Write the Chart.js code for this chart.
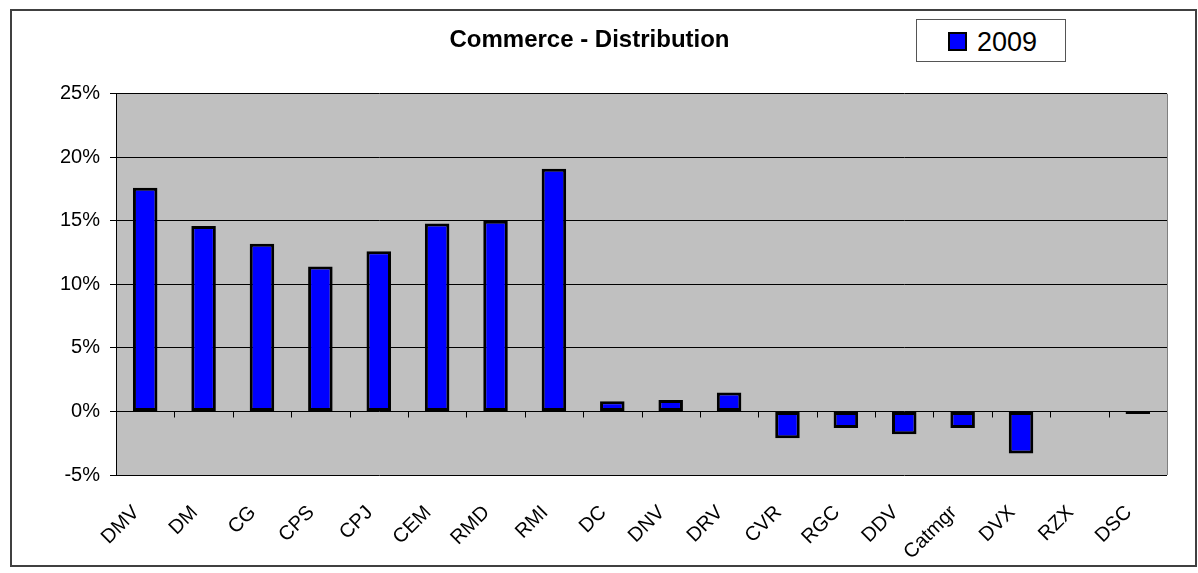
<!DOCTYPE html>
<html>
<head>
<meta charset="utf-8">
<title>Commerce - Distribution</title>
<script src="https://cdn.jsdelivr.net/npm/chart.js@4.4.1/dist/chart.umd.min.js"></script>
<style>
  body { margin: 0; background: #fff; font-family: 'Liberation Sans', Arial, sans-serif; }
  #frame {
    position: absolute; left: 10px; top: 9px;
    width: 1187px; height: 558px;
    border: 2px solid #404040; box-sizing: border-box;
  }
  #chart { display: block; }
  #legend {
    position: absolute; left: 916px; top: 19px;
    width: 150px; height: 43px;
    border: 1px solid #555; box-sizing: border-box; background: #fff;
  }
  #legend .swatch {
    position: absolute; left: 31px; top: 12px;
    width: 19px; height: 19px;
    border: 2px solid #000; box-sizing: border-box;
  }
  #legend .label {
    position: absolute; left: 60px; top: 9px;
    font-size: 27px; line-height: 27px; color: #000;
  }
</style>
</head>
<body>
<div id="frame">
  <canvas id="chart" width="1183" height="554"></canvas>
</div>
<div id="legend"></div>

<script>
// Chart data
const categories = ['DMV', 'DM', 'CG', 'CPS', 'CPJ', 'CEM', 'RMD', 'RMI', 'DC', 'DNV',
                    'DRV', 'CVR', 'RGC', 'DDV', 'Catmgr', 'DVX', 'RZX', 'DSC'];
const seriesLabel = '2009';
const values2009 = [17.6, 14.6, 13.2, 11.4, 12.6, 14.8, 15.0, 19.1, 0.8, 0.9,
                    1.5, -2.1, -1.3, -1.8, -1.3, -3.3, 0, -0.2];
const yTicks = [-5, 0, 5, 10, 15, 20, 25];

const barColor = '#0000ff';
const fontFamily = "'Liberation Sans', Arial, sans-serif";

// Grey plot background
const plotBackground = {
    id: 'plotBackground',
    beforeDraw(chart) {
        const { ctx, chartArea: a } = chart;
        ctx.save();
        ctx.fillStyle = '#c0c0c0';
        ctx.fillRect(a.left, a.top, a.right - a.left, a.bottom - a.top);
        ctx.restore();
    }
};

// Category tick marks along the 0% line and the right edge of the plot
const zeroAxisTicks = {
    id: 'zeroAxisTicks',
    afterDatasetsDraw(chart) {
        const { ctx, chartArea: a, scales: { x, y } } = chart;
        const y0 = Math.round(y.getPixelForValue(0)) + 0.5;
        ctx.save();
        ctx.strokeStyle = '#000';
        ctx.lineWidth = 1;
        ctx.beginPath();
        for (let i = 1; i < categories.length; i++) {
            const px = Math.round(x.getPixelForValue(i - 0.5)) + 0.5;
            ctx.moveTo(px, y0);
            ctx.lineTo(px, y0 + 6);
        }
        ctx.stroke();

        ctx.strokeStyle = '#808080';
        ctx.beginPath();
        ctx.moveTo(Math.round(a.right) + 0.5, a.top);
        ctx.lineTo(Math.round(a.right) + 0.5, a.bottom);
        ctx.stroke();
        ctx.restore();
    }
};

const chart = new Chart(document.getElementById('chart'), {
    type: 'bar',
    data: {
        labels: categories,
        datasets: [{
            label: seriesLabel,
            data: values2009,
            backgroundColor: barColor,
            borderColor: '#000',
            borderWidth: 3,
            borderSkipped: false,
            barPercentage: 0.42,
            categoryPercentage: 1.0
        }]
    },
    options: {
        responsive: false,
        animation: false,
        layout: { padding: { left: 0, right: 28, top: 0, bottom: 0 } },
        plugins: {
            legend: { display: false },
            tooltip: { enabled: false },
            title: {
                display: true,
                text: 'Commerce - Distribution',
                color: '#000',
                font: { family: fontFamily, size: 24, weight: 'bold' },
                padding: { top: 15, bottom: 39 }
            }
        },
        scales: {
            x: {
                grid: { display: false, drawTicks: false },
                border: { display: false },
                ticks: {
                    autoSkip: false,
                    maxRotation: 45,
                    minRotation: 45,
                    padding: 26,
                    labelOffset: -9,
                    color: '#000',
                    font: { family: fontFamily, size: 20 }
                },
                afterFit: scale => { scale.height = 90; }
            },
            y: {
                min: yTicks[0],
                max: yTicks[yTicks.length - 1],
                afterBuildTicks: scale => {
                    scale.ticks = yTicks.map(v => ({ value: v }));
                },
                grid: { color: '#000', lineWidth: 1, tickLength: 6 },
                border: { color: '#000', width: 1 },
                ticks: {
                    padding: 10,
                    color: '#000',
                    font: { family: fontFamily, size: 20 },
                    callback: value => value + '%'
                },
                afterFit: scale => { scale.width = 104; }
            }
        }
    },
    plugins: [plotBackground, zeroAxisTicks]
});

// Legend box built from the dataset
const legend = document.getElementById('legend');
chart.data.datasets.forEach(ds => {
    const swatch = document.createElement('span');
    swatch.className = 'swatch';
    swatch.style.background = ds.backgroundColor;
    const label = document.createElement('span');
    label.className = 'label';
    label.textContent = ds.label;
    legend.appendChild(swatch);
    legend.appendChild(label);
});
</script>
</body>
</html>
